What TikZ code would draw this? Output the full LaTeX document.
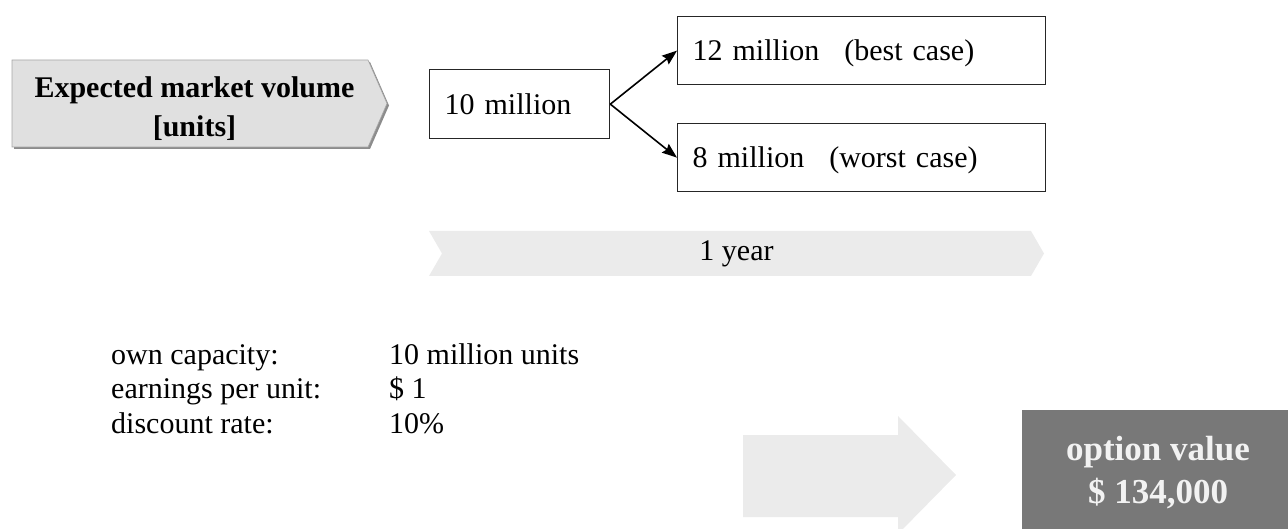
\documentclass[tikz,border=0pt]{standalone}
\usepackage{fontspec}
\setmainfont{Liberation Serif}
\usetikzlibrary{arrows.meta}

\tikzset{
  txt/.style={font=\fontsize{30}{34.5}\selectfont, inner sep=0pt},
  valbox/.style={draw=black!85, line width=1.3pt, fill=white,
    font=\fontsize{30}{34.5}\selectfont, align=left,
    text height=20pt, text depth=0pt,
    inner xsep=15pt, inner ysep=0pt, anchor=north west},
  branch/.style={line width=1.6pt, -{Stealth[length=15pt,width=11pt,inset=2pt]}},
  lightfill/.style={fill=black!8},
}

\begin{document}
\begin{tikzpicture}[x=1pt, y=-1pt]
\useasboundingbox (0,0) rectangle (1288,529);

% heading tag with its shadow
\fill[black!45] (14,62) -- (370,62) -- (389,105.5) -- (370,149) -- (14,149) -- cycle;
\filldraw[fill=black!12, draw=black!35, line width=0.6pt]
  (12,60) -- (368,60) -- (387,103.5) -- (368,147) -- (12,147) -- cycle;
\node[txt, font=\bfseries\fontsize{30}{38.5}\selectfont, align=center]
  (volume) at (194.5,108.5) {Expected market volume\\{[units]}};

% today's volume and the two outcomes
\node[valbox, text width=150pt, minimum height=69pt] (now) at (429,69) {10 million};
\node[valbox, text width=338pt, minimum height=68pt] (best) at (677,16)
  {12 million\hspace{25pt}(best case)};
\node[valbox, text width=338pt, minimum height=68pt] (worst) at (677,123)
  {8 million\hspace{25pt}(worst case)};
\draw[branch] (now.east) -- (best.west);
\draw[branch] (now.east) -- (worst.west);

% time band
\fill[lightfill] (429,231) -- (1031,231) -- (1044,253.5) -- (1031,276)
  -- (429,276) -- (442,253.5) -- cycle;
\node[txt] (period) at (736.5,253.5) {1 year};

% assumptions
\node[txt, anchor=base west] (facts) at (111,364) {%
  \begin{tabular}[t]{@{}p{278pt}@{}l@{}}
  own capacity: & 10 million units\\
  earnings per unit: & \$ 1\\
  discount rate: & 10\%
  \end{tabular}};

% result arrow and value box
\fill[lightfill] (743,435) -- (898,435) -- (898,416) -- (956,475)
  -- (898,534) -- (898,517) -- (743,517) -- cycle;
\fill[black!53] (1022,410) rectangle (1288,529);
\node[inner sep=0pt, text=white!95!black, align=center,
  font=\bfseries\fontsize{35}{43}\selectfont] (result) at (1158,473)
  {option value\\\$ 134,000};
\end{tikzpicture}
\end{document}
